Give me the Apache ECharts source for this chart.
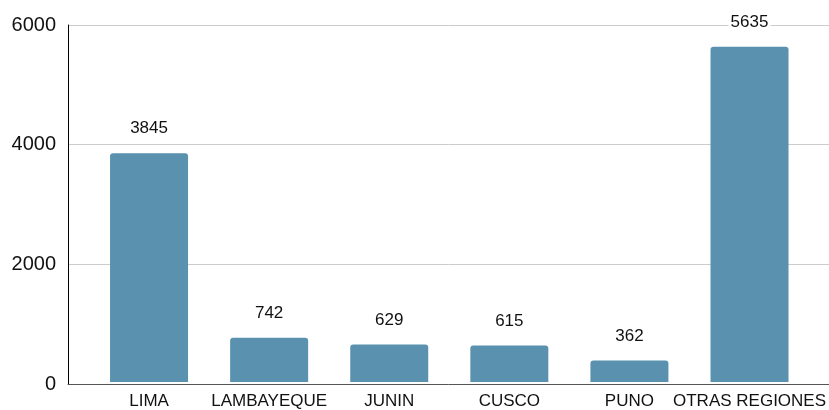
<!DOCTYPE html>
<html><head><meta charset="utf-8">
<script src="https://cdn.jsdelivr.net/npm/echarts@6/dist/echarts.min.js"></script>
<style>html,body{margin:0;padding:0;background:#fff}#c{width:829px;height:410px}</style>
</head><body><div id="c"></div>
<script>
const categories = ['LIMA', 'LAMBAYEQUE', 'JUNIN', 'CUSCO', 'PUNO', 'OTRAS REGIONES'];
const values = [3845, 742, 629, 615, 362, 5635];
const yTicks = { min: 0, max: 6000, interval: 2000 };

const chart = echarts.init(document.getElementById('c'));
const font = '"Liberation Sans", Arial, sans-serif';
chart.setOption({
  animation: false,
  backgroundColor: '#fff',
  grid: [
    { left: 68, right: 0, top: 25, bottom: 26 },
    { left: 89, right: 19, top: 25, bottom: 26 }
  ],
  xAxis: [
    { gridIndex: 0, type: 'value', min: 0, max: 1,
      axisLine: { show: true, lineStyle: { color: '#555', width: 1 } },
      axisTick: { show: false }, axisLabel: { show: false }, splitLine: { show: false } },
    { gridIndex: 1, type: 'category', data: categories,
      axisLine: { show: false }, axisTick: { show: false },
      axisLabel: { interval: 0, margin: 11, color: '#111', fontSize: 17, fontFamily: font } }
  ],
  yAxis: [
    { gridIndex: 0, type: 'value', min: yTicks.min, max: yTicks.max, interval: yTicks.interval,
      axisLine: { show: true, lineStyle: { color: '#000', width: 1 } },
      axisTick: { show: false },
      axisLabel: { margin: 12, color: '#111', fontSize: 20, fontFamily: font,
        formatter: v => String(v) },
      splitLine: { show: true, lineStyle: { color: '#cccccc', width: 1 } } },
    { gridIndex: 1, type: 'value', min: yTicks.min, max: yTicks.max, interval: yTicks.interval,
      show: false }
  ],
  series: [{
    type: 'bar', xAxisIndex: 1, yAxisIndex: 1,
    data: values, barWidth: 78,
    itemStyle: { color: '#5a91ae', borderRadius: [3, 3, 0, 0] },
    label: { show: true, position: 'top', distance: 16, color: '#111', fontSize: 17,
      fontFamily: font, backgroundColor: '#fff', padding: [0, 2] }
  }]
});
</script></body></html>
